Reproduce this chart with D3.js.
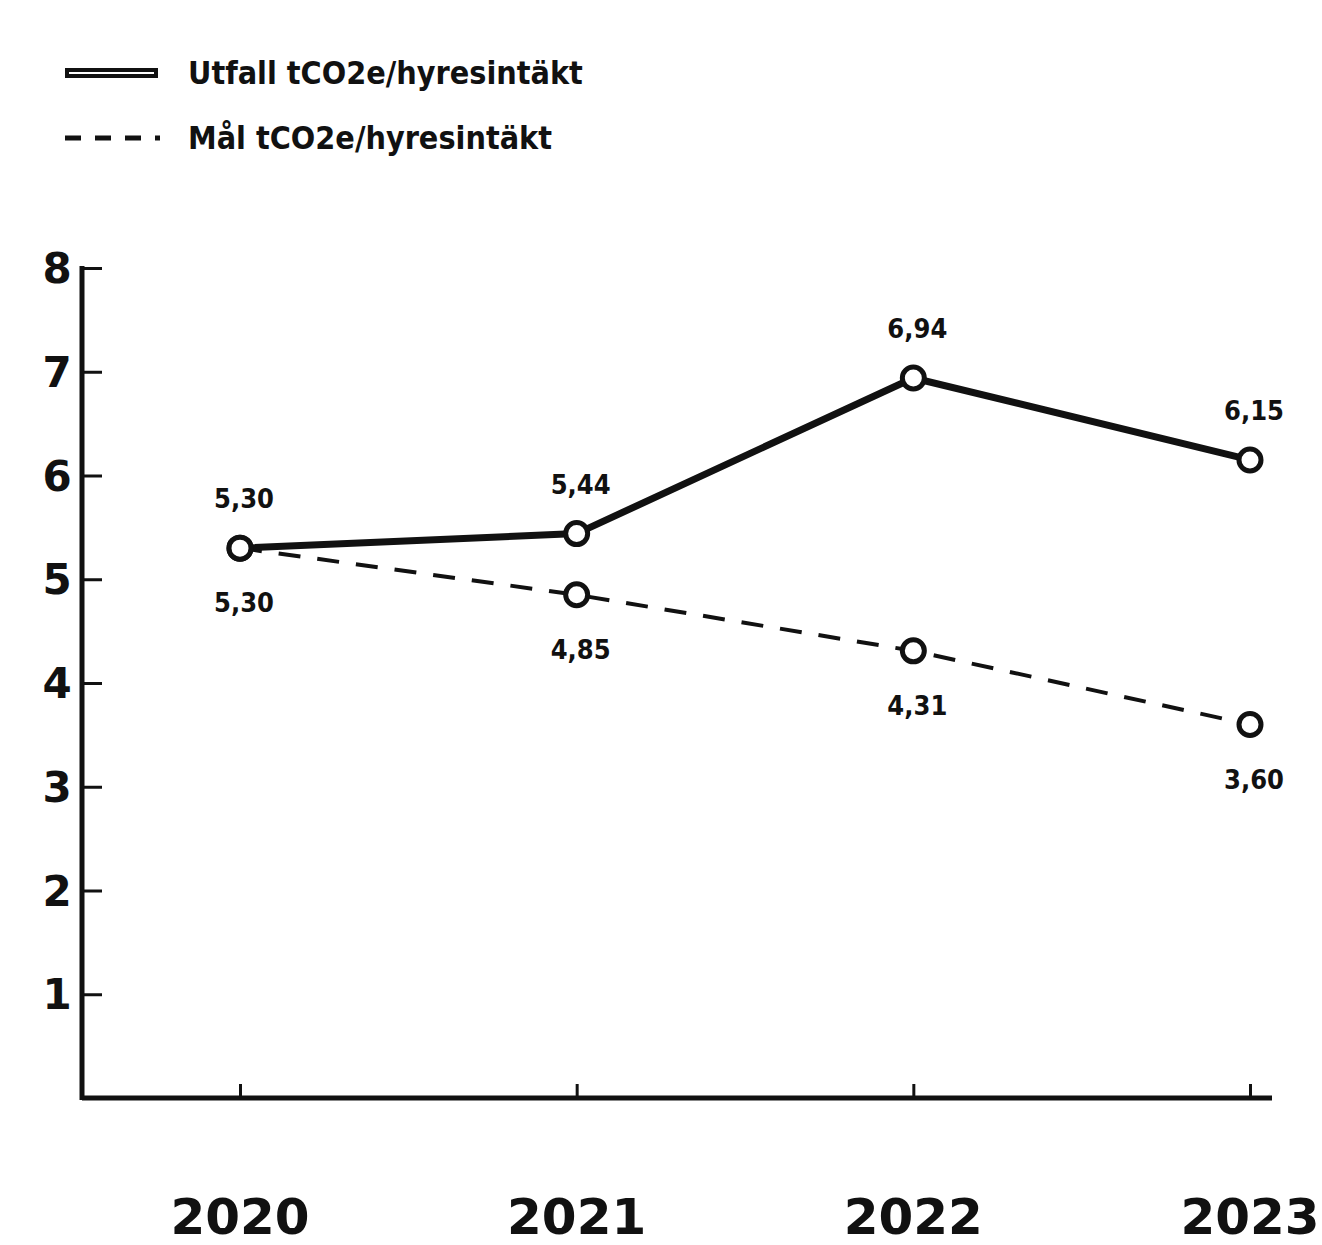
<!DOCTYPE html>
<html>
<head>
<meta charset="utf-8">
<script src="https://cdn.jsdelivr.net/npm/d3@7"></script>
<style>
  body { margin: 0; background: #fff; }
  text { font-family: "Liberation Sans Narrow", "DejaVu Sans Condensed", "Liberation Sans", sans-serif; font-weight: bold; fill: #111; }
</style>
</head>
<body>
<div id="chart"></div>
<script>
// data
var years = ["2020", "2021", "2022", "2023"];
var utfall = [5.30, 5.44, 6.94, 6.15];
var mal = [5.30, 4.85, 4.31, 3.60];
var utfallLabels = ["5,30", "5,44", "6,94", "6,15"];
var malLabels = ["5,30", "4,85", "4,31", "3,60"];
var yTicks = [1, 2, 3, 4, 5, 6, 7, 8];
var seriesNames = ["Utfall tCO2e/hyresintäkt", "Mål tCO2e/hyresintäkt"];

var width = 1322, height = 1245;

var svg = d3.select("#chart").append("svg")
    .attr("width", width)
    .attr("height", height);

// scales
var x = d3.scalePoint()
    .domain(years)
    .range([240, 1250]);

var y = d3.scaleLinear()
    .domain([0, 8])
    .range([1098, 268]);

var axisLeft = 82, axisRight = 1272;

// y axis (ticks point inward)
var yAxis = d3.axisRight(y)
    .tickValues(yTicks)
    .tickSize(20)
    .tickFormat("");

var yg = svg.append("g")
    .attr("transform", "translate(" + axisLeft + ",0)")
    .call(yAxis);
yg.select(".domain").remove();
yg.selectAll(".tick line").attr("stroke", "#111").attr("stroke-width", 3);

svg.append("line")
    .attr("x1", axisLeft).attr("x2", axisLeft)
    .attr("y1", y(8) - 2).attr("y2", y(0) + 2)
    .attr("stroke", "#111").attr("stroke-width", 5);

svg.selectAll(".ylab")
    .data(yTicks)
    .enter().append("text")
    .attr("class", "ylab")
    .attr("x", 57)
    .attr("y", function(d) { return y(d) + 15; })
    .attr("text-anchor", "middle")
    .style("font-size", "42px")
    .style("font-family", "'DejaVu Sans', sans-serif")
    .text(function(d) { return d; });

// x axis
svg.append("line")
    .attr("x1", axisLeft).attr("x2", axisRight)
    .attr("y1", y(0)).attr("y2", y(0))
    .attr("stroke", "#111").attr("stroke-width", 5);

var xAxis = d3.axisTop(x).tickSize(14).tickFormat("");
var xg = svg.append("g")
    .attr("transform", "translate(0," + y(0) + ")")
    .call(xAxis);
xg.select(".domain").remove();
xg.selectAll(".tick line").attr("stroke", "#111").attr("stroke-width", 3);

svg.selectAll(".xlab")
    .data(years)
    .enter().append("text")
    .attr("class", "xlab")
    .attr("x", function(d) { return x(d); })
    .attr("y", 1234)
    .attr("text-anchor", "middle")
    .style("font-size", "50px")
    .style("font-family", "'DejaVu Sans', sans-serif")
    .text(function(d) { return d; });

// lines
var line = d3.line()
    .x(function(d, i) { return x(years[i]); })
    .y(function(d) { return y(d); });

svg.append("path")
    .datum(mal)
    .attr("fill", "none")
    .attr("stroke", "#111")
    .attr("stroke-width", 4)
    .attr("stroke-dasharray", "22,17")
    .attr("d", line);

svg.append("path")
    .datum(utfall)
    .attr("fill", "none")
    .attr("stroke", "#111")
    .attr("stroke-width", 7)
    .attr("d", line);

// markers
[mal, utfall].forEach(function(series) {
    svg.append("g").selectAll("circle")
        .data(series)
        .enter().append("circle")
        .attr("cx", function(d, i) { return x(years[i]); })
        .attr("cy", function(d) { return y(d); })
        .attr("r", 11)
        .attr("fill", "#fff")
        .attr("stroke", "#111")
        .attr("stroke-width", 5);
});

// value labels
svg.append("g").selectAll("text")
    .data(utfall)
    .enter().append("text")
    .attr("x", function(d, i) { return x(years[i]) + 4; })
    .attr("y", function(d) { return y(d) - 40; })
    .attr("text-anchor", "middle")
    .style("font-size", "27px")
    .text(function(d, i) { return utfallLabels[i]; });

svg.append("g").selectAll("text")
    .data(mal)
    .enter().append("text")
    .attr("x", function(d, i) { return x(years[i]) + 4; })
    .attr("y", function(d) { return y(d) + 64; })
    .attr("text-anchor", "middle")
    .style("font-size", "27px")
    .text(function(d, i) { return malLabels[i]; });

// legend
var legend = svg.append("g");
legend.append("line")
    .attr("x1", 65).attr("x2", 158)
    .attr("y1", 73).attr("y2", 73)
    .attr("stroke", "#111").attr("stroke-width", 10);
legend.append("line")
    .attr("x1", 69).attr("x2", 154)
    .attr("y1", 73).attr("y2", 73)
    .attr("stroke", "#fff").attr("stroke-width", 2);
legend.append("line")
    .attr("x1", 65).attr("x2", 160)
    .attr("y1", 138).attr("y2", 138)
    .attr("stroke", "#111").attr("stroke-width", 5)
    .attr("stroke-dasharray", "16,14");

legend.selectAll("text")
    .data(seriesNames)
    .enter().append("text")
    .attr("x", 188)
    .attr("y", function(d, i) { return 84 + i * 65; })
    .style("font-size", "32px")
    .text(function(d) { return d; });
</script>
</body>
</html>
